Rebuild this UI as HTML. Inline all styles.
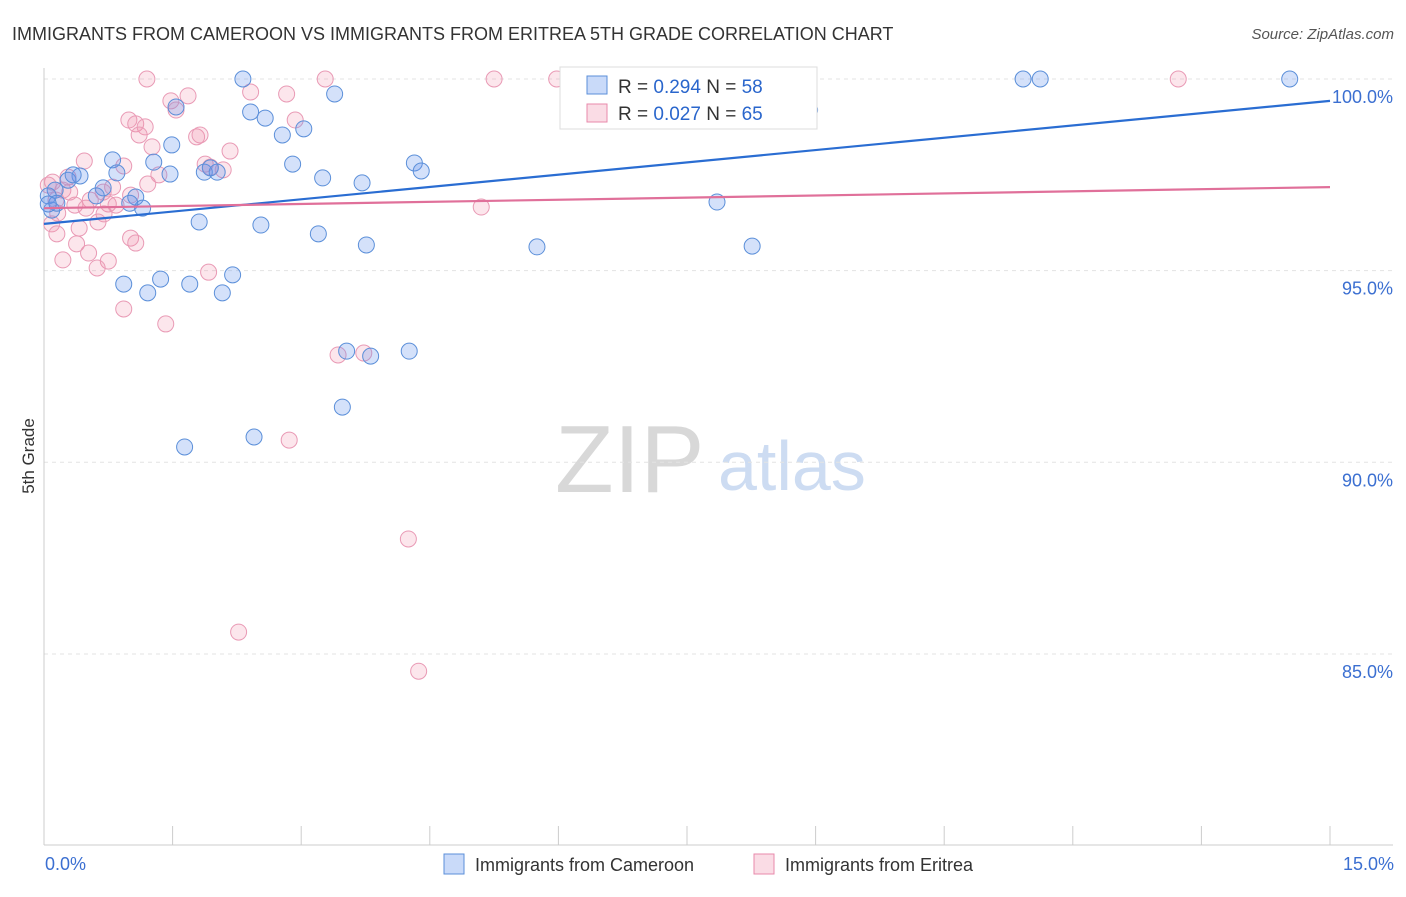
<!DOCTYPE html>
<html><head><meta charset="utf-8"><style>
body{margin:0;background:#fff;font-family:"Liberation Sans",sans-serif}
svg text{font-family:"Liberation Sans",sans-serif}
</style></head><body>
<svg id="chart" width="1406" height="892" xmlns="http://www.w3.org/2000/svg">
<text x="12" y="40" font-size="18" fill="#333">IMMIGRANTS FROM CAMEROON VS IMMIGRANTS FROM ERITREA 5TH GRADE CORRELATION CHART</text>
<text x="1394" y="39" font-size="15" fill="#555" text-anchor="end" font-style="italic">Source: ZipAtlas.com</text>
<g>
<text x="555" y="492" font-size="96" fill="#d8d8d8" font-family="Liberation Serif">ZIP</text>
<text x="718" y="490" font-size="70" fill="#cddcf2">atlas</text>
</g>
<text transform="translate(34,456) rotate(-90)" font-size="17" fill="#333" text-anchor="middle">5th Grade</text>
<g id="grid"></g><g id="axes"></g><g id="marks"></g>
<g>
<rect x="560" y="67" width="257" height="62" fill="#fff" stroke="#ddd"/>
<rect x="587" y="76" width="20" height="18" fill="rgba(100,149,237,0.35)" stroke="#5b8fd9"/>
<rect x="587" y="104" width="20" height="18" fill="rgba(240,140,170,0.3)" stroke="#e88aab"/>
<text x="618" y="93" font-size="19" fill="#333">R = <tspan fill="#2a66cc">0.294</tspan>   N = <tspan fill="#2a66cc">58</tspan></text>
<text x="618" y="120" font-size="19" fill="#333">R = <tspan fill="#2a66cc">0.027</tspan>   N = <tspan fill="#2a66cc">65</tspan></text>
</g>
<g>
<rect x="444" y="854" width="20" height="20" fill="rgba(100,149,237,0.35)" stroke="#5b8fd9"/>
<text x="475" y="871" font-size="18" fill="#333">Immigrants from Cameroon</text>
<rect x="754" y="854" width="20" height="20" fill="rgba(240,140,170,0.3)" stroke="#e88aab"/>
<text x="785" y="871" font-size="18" fill="#333">Immigrants from Eritrea</text>
</g>
</svg>
<script>
const yTicks=[100,95,90,85];
const yTickLabels=["100.0%","95.0%","90.0%","85.0%"];
const xTickLabels=["0.0%","15.0%"];
const blueX=[2.32,1.54,2.41,2.58,3.39,3.03,2.78,1.49,0.80,1.28,2.90,4.32,4.40,1.87,2.02,1.47,0.85,0.42,0.28,0.69,3.25,3.71,0.13,0.61,1.07,0.05,1.00,1.15,0.09,7.85,1.81,2.53,3.20,3.76,5.75,8.26,2.20,1.36,0.93,1.70,1.21,2.08,3.53,3.81,4.26,3.48,1.64,2.45,11.42,11.62,14.53,8.93,6.72,8.65,0.15,0.05,1.94,0.34];
const blueY=[100,99.27,99.14,98.98,99.61,98.70,98.54,98.28,97.89,97.83,97.78,97.81,97.60,97.57,97.57,97.52,97.55,97.47,97.36,97.16,97.42,97.29,97.10,96.95,96.92,96.95,96.76,96.63,96.58,96.79,96.27,96.19,95.96,95.67,95.62,95.64,94.89,94.78,94.65,94.65,94.42,94.42,92.90,92.77,92.90,91.44,90.40,90.66,100,100,100,99.19,100,100,96.76,96.74,97.68,97.50];
const pinkX=[1.20,3.28,5.25,5.98,13.23,6.70,1.68,2.41,2.83,1.48,1.54,0.99,1.07,1.18,2.93,1.78,1.11,1.82,1.26,2.17,0.47,1.88,0.93,2.09,1.34,0.28,1.21,0.80,0.10,0.22,0.69,1.01,0.54,0.75,0.36,0.49,0.16,0.70,0.63,0.09,0.41,0.15,1.01,1.07,0.38,0.52,0.22,0.75,0.62,1.92,0.93,1.42,3.43,3.73,2.86,4.25,2.27,4.37,5.10,0.05,0.84,0.14,0.30,1.94];
const pinkY=[100,100,100,100,100,100,99.56,99.66,99.61,99.43,99.19,98.93,98.83,98.75,98.93,98.49,98.54,98.54,98.23,98.12,97.86,97.78,97.73,97.63,97.50,97.44,97.26,97.18,97.31,97.10,97.05,96.97,96.84,96.74,96.71,96.63,96.50,96.48,96.27,96.22,96.11,95.96,95.85,95.72,95.70,95.46,95.28,95.25,95.07,94.96,94.00,93.61,92.80,92.85,90.58,88.00,85.57,84.55,96.66,97.23,96.71,96.84,97.05,97.70];
const blueTrend=[96.22,99.43];
const pinkTrend=[96.63,97.18];
const NS="http://www.w3.org/2000/svg";
const X0=44,X1=1330,Y100=79,PXPER=38.33;
const sx=v=>X0+(v/15)*(X1-X0);
const sy=v=>Y100+(100-v)*PXPER;
function mk(tag,attrs,parent){const e=document.createElementNS(NS,tag);for(const k in attrs)e.setAttribute(k,attrs[k]);document.getElementById(parent).appendChild(e);return e;}
yTicks.forEach((t,i)=>{
 const g=mk('line',{x1:X0,x2:1393,y1:sy(t),y2:sy(t),stroke:'#e3e3e3','stroke-dasharray':'4,4'},'grid');
 
 
 const tx=mk('text',{x:1393,y:sy(t)+24,'font-size':18,fill:'#3b6fd1','text-anchor':'end'},'axes');
 tx.textContent=yTickLabels[i];
 
 
});
let a=mk('line',{x1:X0,x2:X0,y1:68,y2:845,stroke:'#ccc'},'axes');


a=mk('line',{x1:X0,x2:1393,y1:845,y2:845,stroke:'#ccc'},'axes');


for(let i=0;i<=10;i++){
 const t=mk('line',{x1:sx(i*1.5),x2:sx(i*1.5),y1:826,y2:845,stroke:'#ccc'},'axes');
 
 
}
[[0,'start',45],[15,'end',1394]].forEach((p,i)=>{
 const t=mk('text',{x:p[2],y:870,'font-size':18,fill:'#3b6fd1','text-anchor':p[1]},'axes');
 t.textContent=xTickLabels[i];
 
 
});
function pts(xs,ys,fill,stroke,name){
 xs.forEach((x,i)=>{
  const c=mk('circle',{cx:sx(x),cy:sy(ys[i]),r:8,fill:fill,stroke:stroke,'stroke-width':1},'marks');
  
  
 });
}
pts(pinkX,pinkY,'rgba(240,140,170,0.22)','#e99ab5','eritrea-point');
pts(blueX,blueY,'rgba(100,149,237,0.28)','#5b8fd9','cameroon-point');
let l=mk('line',{x1:sx(0),y1:sy(blueTrend[0]),x2:sx(15),y2:sy(blueTrend[1]),stroke:'#2a6dd2','stroke-width':2.2},'marks');


l=mk('line',{x1:sx(0),y1:sy(pinkTrend[0]),x2:sx(15),y2:sy(pinkTrend[1]),stroke:'#e0709a','stroke-width':2.2},'marks');


</script>
</body></html>
